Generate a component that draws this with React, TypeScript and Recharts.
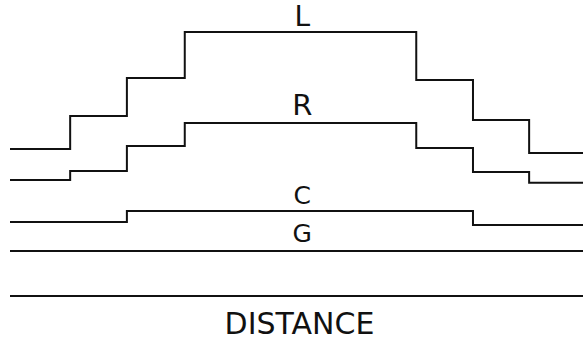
import React from "react";
import { LineChart, Line, XAxis, YAxis, ReferenceDot } from "recharts";

// step breakpoints along the distance axis
const distance = [0, 1.05, 2.04, 3.05, 7.09, 8.08, 9.06, 10];

const L = [5.44, 6.67, 8.07, 9.78, 8.0, 6.52, 5.3, 5.3];
const R = [4.3, 4.63, 5.56, 6.41, 5.48, 4.59, 4.19, 4.19];
const C = [2.74, 2.74, 3.15, 3.15, 3.15, 2.63, 2.63, 2.63];
const G = [1.67, 1.67, 1.67, 1.67, 1.67, 1.67, 1.67, 1.67];

const seriesNames = ["L", "R", "C", "G"];
const labelAt = 5.1;

const rows = distance.map((d, i) => ({ d, L: L[i], R: R[i], C: C[i], G: G[i] }));

const font = "DejaVu Sans";
const ink = "#111";

const labelStyle: Record<string, { size: number; offset: number; value: number }> = {
  L: { size: 28, offset: 6, value: L[3] },
  R: { size: 29, offset: 8, value: R[3] },
  C: { size: 25, offset: 7, value: C[3] },
  G: { size: 25, offset: 9, value: G[3] },
};

export default function App() {
  return (
    <div style={{ position: "absolute", left: 0, top: 0, background: "#fff" }}>
      <LineChart width={583} height={341} data={rows}
        margin={{ top: 26, right: 0, bottom: 0, left: 10 }}>
        <XAxis dataKey="d" type="number" domain={[0, 10]} height={45}
          tick={false} tickLine={false}
          axisLine={{ stroke: ink, strokeWidth: 2 }}
          label={{ value: "DISTANCE", position: "insideBottom", offset: 7, dx: 3,
            fill: ink, fontSize: 30, fontFamily: font }} />
        <YAxis hide domain={[0, 10]} />
        {seriesNames.map((k) => (
          <Line key={k} type="stepAfter" dataKey={k} stroke={ink} strokeWidth={2}
            dot={false} isAnimationActive={false} />
        ))}
        {seriesNames.map((k) => (
          <ReferenceDot key={"lbl" + k} x={labelAt} y={labelStyle[k].value} r={0}
            fill="none" stroke="none"
            label={{ value: k, position: "top", offset: labelStyle[k].offset,
              fill: ink, fontSize: labelStyle[k].size, fontFamily: font }} />
        ))}
      </LineChart>
    </div>
  );
}
